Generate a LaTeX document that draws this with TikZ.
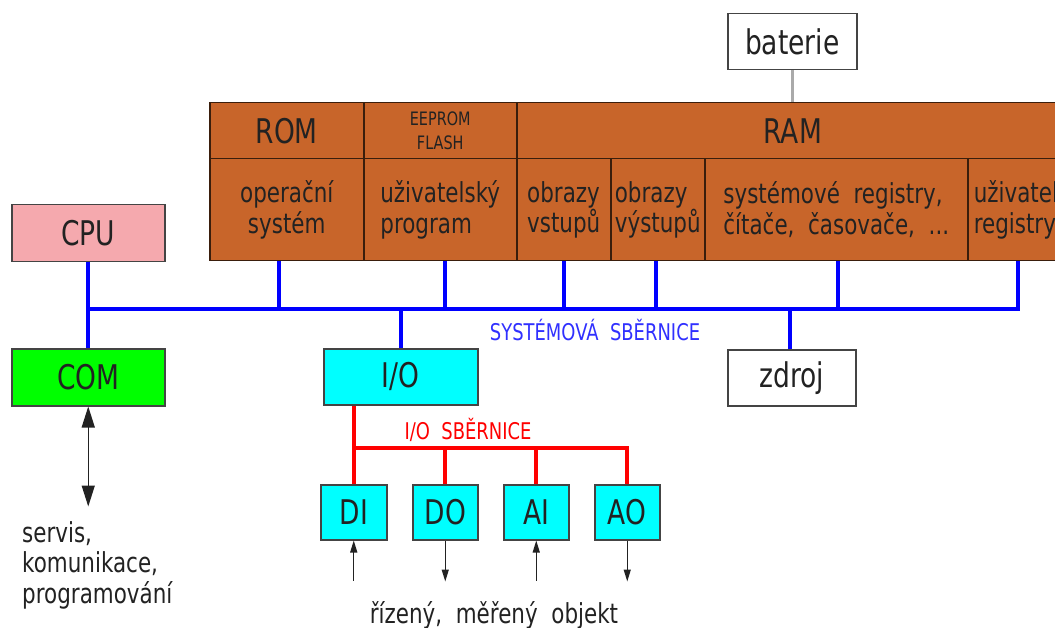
\documentclass[tikz,border=0pt]{standalone}
\usepackage{fontspec}
\setmainfont[FakeStretch=0.78]{DejaVu Sans}
\usetikzlibrary{arrows.meta,calc}

\definecolor{memfill}{HTML}{C8652A}
\definecolor{membrd}{HTML}{3A1E0C}
\definecolor{cpupink}{HTML}{F5A9AE}
\definecolor{comgreen}{HTML}{00FF00}
\definecolor{iocyan}{HTML}{00FFFF}
\definecolor{boxline}{HTML}{444444}
\definecolor{txt}{HTML}{222222}
\definecolor{busblue}{HTML}{0000FF}
\definecolor{labelblue}{HTML}{3030FF}
\definecolor{busred}{HTML}{FF0000}
\definecolor{batgray}{HTML}{AAAAAA}

\newcommand\bigfont{\fontsize{34}{38}\selectfont}
\newcommand\bodyfont{\fontsize{27.5}{30.5}\selectfont}
\newcommand\busfont{\fontsize{23}{26}\selectfont}
\newcommand\tinyfont{\fontsize{18.5}{24}\selectfont}

\begin{document}
\begin{tikzpicture}[x=1pt,y=-1pt,
  every node/.style={text=txt},
  box/.style={draw=boxline, line width=1.5pt, inner sep=0pt, anchor=north west, font=\bigfont},
  memcell/.style={draw=membrd, fill=memfill, line width=1.5pt, inner sep=0pt, anchor=north west, align=left, font=\bodyfont},
  bus/.style={busblue, line width=4pt, line join=miter},
  redbus/.style={busred, line width=4pt, line join=miter},
  batline/.style={batgray, line width=3pt},
  sig/.style={txt, line width=1.3pt},
  smallhead/.style={-{Triangle[length=12pt,width=7pt]}},
  bighead/.style={{Triangle[length=21pt,width=13pt]}-{Triangle[length=21pt,width=13pt]}}
]
\useasboundingbox (0,0) rectangle (1055,628);
\clip (0,0) rectangle (1055,628);
\fill[white] (0,0) rectangle (1055,628);

% memory map: header row
\node[memcell, minimum width=154, minimum height=56, font=\bigfont] (romH) at (209,102) {ROM};
\node[memcell, minimum width=153, minimum height=56, font=\tinyfont, align=center] (eepH) at (363,102) {EEPROM\\FLASH};
\node[memcell, minimum width=552, minimum height=56, font=\bigfont] (ramH) at (516,102) {RAM};
% memory map: contents row
\node[memcell, minimum width=154, minimum height=102, align=center] (romB) at (209,158) {operační\\systém};
\node[memcell, minimum width=153, minimum height=102] (eepB) at (363,158) {uživatelský\\program};
\node[memcell, minimum width=94, minimum height=102] (vstB) at (516,158) {obrazy\\vstupů};
\node[memcell, minimum width=94, minimum height=102] (vysB) at (610,158) {obrazy\\výstupů};
\node[memcell, minimum width=263, minimum height=102] (sysB) at (704,158) {systémové\ \ registry,\\čítače,\ \ časovače,\ \ ...};
\node[memcell, minimum width=101, minimum height=102, text width=89, inner xsep=6pt] (uziB) at (967,158) {uživatelské\\registry};

% units
\node[box, fill=cpupink, minimum width=153, minimum height=57] (cpu) at (11,204) {CPU};
\node[box, fill=comgreen, minimum width=153, minimum height=57] (com) at (11,348) {COM};
\node[box, fill=iocyan, minimum width=154, minimum height=56] (io) at (323,348) {I/O};
\node[box, fill=white, minimum width=128, minimum height=56] (zdroj) at (727,349) {zdroj};
\node[box, fill=white, minimum width=129, minimum height=56] (bat) at (727,13) {baterie};
\node[box, fill=iocyan, minimum width=66, minimum height=55] (di) at (320,484) {DI};
\node[box, fill=iocyan, minimum width=65, minimum height=55] (do) at (412,484) {DO};
\node[box, fill=iocyan, minimum width=65, minimum height=55] (ai) at (503,484) {AI};
\node[box, fill=iocyan, minimum width=65, minimum height=55] (ao) at (594,484) {AO};

% system bus
\coordinate (busL) at (87,309);
\draw[bus] (cpu.south) -- (com.north);
\draw[bus] (busL) -| (uziB.south);
\draw[bus] ([xshift=-8pt]romB.south) -- ([xshift=-8pt]romB.south |- busL);
\draw[bus] ([xshift=4.5pt]eepB.south) -- ([xshift=4.5pt]eepB.south |- busL);
\draw[bus] (vstB.south) -- (vstB.south |- busL);
\draw[bus] ([xshift=-2pt]vysB.south) -- ([xshift=-2pt]vysB.south |- busL);
\draw[bus] ([xshift=1.5pt]sysB.south) -- ([xshift=1.5pt]sysB.south |- busL);
\draw[bus] (io.north) -- (io.north |- busL);
\draw[bus] ([xshift=-2pt]zdroj.north) -- ([xshift=-2pt]zdroj.north |- busL);
\draw[batline] (bat.south) -- (bat.south |- ramH.north);

% I/O bus
\coordinate (ioL) at (353,448);
\draw[redbus] (di.north |- io.south) -- (di.north);
\draw[redbus] (ioL) -| (ao.north);
\draw[redbus] (do.north) -- (do.north |- ioL);
\draw[redbus] (ai.north) -- (ai.north |- ioL);

% signals to and from the process
\path (di.south) ++(0,40) coordinate (diEnd);
\path (do.south) ++(0,41) coordinate (doEnd);
\path (ai.south) ++(0,40) coordinate (aiEnd);
\path (ao.south) ++(0,41) coordinate (aoEnd);
\path (com.south) ++(0,100) coordinate (comEnd);
\draw[sig, smallhead] (diEnd) -- (di.south);
\draw[sig, smallhead] (do.south) -- (doEnd);
\draw[sig, smallhead] (aiEnd) -- (ai.south);
\draw[sig, smallhead] (ao.south) -- (aoEnd);
\draw[sig, bighead] (com.south) -- (comEnd);

% labels
\node[font=\busfont, text=labelblue] (syslabel) at (595,330) {SYSTÉMOVÁ\ \ SBĚRNICE};
\node[font=\busfont, text=busred] (iolabel) at (468,430) {I/O\ \ SBĚRNICE};
\node[font=\bodyfont, anchor=base] (objlabel) at (494,623) {řízený,\ \ měřený\ \ objekt};
\node[font=\bodyfont, anchor=base west, align=left, inner sep=0pt] (servis) at (22,603) {servis,\\komunikace,\\programování};
\end{tikzpicture}
\end{document}
